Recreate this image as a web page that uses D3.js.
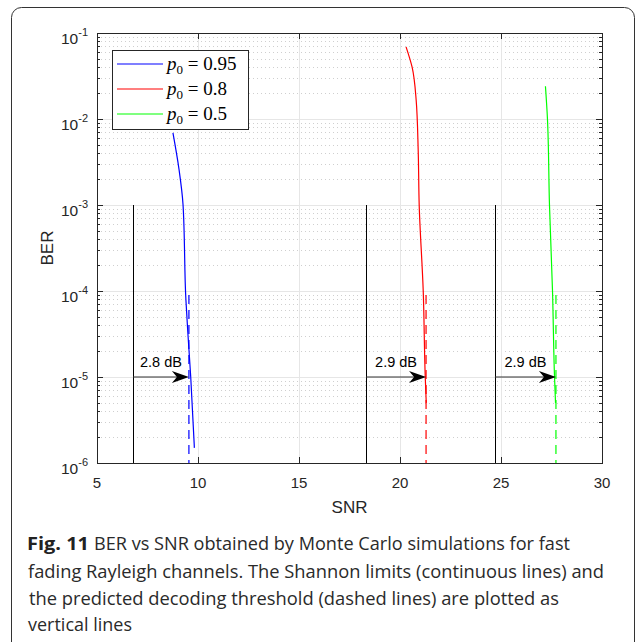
<!DOCTYPE html>
<html>
<head>
<meta charset="utf-8">
<script src="https://cdn.jsdelivr.net/npm/d3@7"></script>
<style>
  body { margin: 0; background: #fff; }
  svg { display: block; }
</style>
</head>
<body>
<div id="chart"></div>
<script>
const width = 637;
const height = 642;

// data
const series = ["p0 = 0.95", "p0 = 0.8", "p0 = 0.5"];
const seriesValue = ["0.95", "0.8", "0.5"];
const seriesColor = ["#0000ff", "#ff0000", "#00ff00"];
const snr095 = [8.76, 9.06, 9.26, 9.4, 9.5, 9.64, 9.82];
const ber095 = [6.9e-3, 2.6e-3, 1e-3, 8e-5, 3.2e-5, 1e-5, 1.5e-6];
const snr08 = [20.3, 20.6, 20.8, 20.9, 20.95, 21.15, 21.25, 21.3];
const ber08 = [6.9e-2, 4e-2, 1.66e-2, 4.4e-3, 1e-3, 1e-4, 1e-5, 5e-6];
const snr05 = [27.2, 27.3, 27.4, 27.55, 27.65, 27.7];
const ber05 = [2.4e-2, 1e-2, 1e-3, 1e-4, 1e-5, 5e-6];
const shannonSnr = [6.78, 18.32, 24.7];
const thresholdSnr = [9.55, 21.29, 27.72];
const gapLabels = ["2.8 dB", "2.9 dB", "2.9 dB"];
const shannonBer = [1e-3, 1e-6];
const thresholdBer = [9e-5, 1e-6];
const arrowBer = 1e-5;
const xTicks = [5, 10, 15, 20, 25, 30];
const yDecades = [-6, -5, -4, -3, -2, -1];
const captionBold = "Fig. 11";
const captionLines = [
  "BER vs SNR obtained by Monte Carlo simulations for fast",
  "fading Rayleigh channels. The Shannon limits (continuous lines) and",
  "the predicted decoding threshold (dashed lines) are plotted as",
  "vertical lines"
];

const curves = [
  snr095.map((s, i) => [s, ber095[i]]),
  snr08.map((s, i) => [s, ber08[i]]),
  snr05.map((s, i) => [s, ber05[i]])
];

const plot = { left: 97, right: 602, top: 33, bottom: 463 };
const axisColor = "#262626";

const svg = d3.select("#chart").append("svg")
  .attr("width", width)
  .attr("height", height);

// outer figure frame
svg.append("rect")
  .attr("x", 11.5).attr("y", 7.5)
  .attr("width", 623).attr("height", 660)
  .attr("rx", 10)
  .attr("fill", "none")
  .attr("stroke", "#333")
  .attr("stroke-width", 1);

const x = d3.scaleLinear().domain([5, 30]).range([plot.left, plot.right]);
const y = d3.scaleLog().domain([1e-6, 1e-1]).range([plot.bottom, plot.top]);

const minorVals = [];
yDecades.slice(0, -1).forEach(e => {
  for (let k = 2; k <= 9; k++) minorVals.push(k * Math.pow(10, e));
});

const grid = svg.append("g");
// minor dotted grid
grid.selectAll(".minor").data(minorVals).enter().append("line")
  .attr("x1", plot.left).attr("x2", plot.right)
  .attr("y1", d => Math.round(y(d)) + 0.5).attr("y2", d => Math.round(y(d)) + 0.5)
  .attr("stroke", "#cfcfcf").attr("stroke-dasharray", "1,3");
// major grid
grid.selectAll(".majy").data(yDecades.slice(1, -1)).enter().append("line")
  .attr("x1", plot.left).attr("x2", plot.right)
  .attr("y1", d => Math.round(y(Math.pow(10, d))) + 0.5)
  .attr("y2", d => Math.round(y(Math.pow(10, d))) + 0.5)
  .attr("stroke", "#e6e6e6");
grid.selectAll(".majx").data(xTicks.slice(1, -1)).enter().append("line")
  .attr("x1", d => Math.round(x(d)) + 0.5).attr("x2", d => Math.round(x(d)) + 0.5)
  .attr("y1", plot.top).attr("y2", plot.bottom)
  .attr("stroke", "#e6e6e6");

// axes box and ticks
const axes = svg.append("g").attr("stroke", axisColor).attr("fill", "none");
axes.append("rect")
  .attr("x", plot.left + 0.5).attr("y", plot.top + 0.5)
  .attr("width", plot.right - plot.left).attr("height", plot.bottom - plot.top)
  .attr("stroke-width", 1);
xTicks.forEach(t => {
  const px = Math.round(x(t)) + 0.5;
  axes.append("line").attr("x1", px).attr("x2", px).attr("y1", plot.bottom).attr("y2", plot.bottom - 6);
  axes.append("line").attr("x1", px).attr("x2", px).attr("y1", plot.top).attr("y2", plot.top + 6);
});
yDecades.forEach(e => {
  const py = Math.round(y(Math.pow(10, e))) + 0.5;
  axes.append("line").attr("x1", plot.left).attr("x2", plot.left + 6).attr("y1", py).attr("y2", py);
  axes.append("line").attr("x1", plot.right).attr("x2", plot.right - 6).attr("y1", py).attr("y2", py);
});
minorVals.forEach(v => {
  const py = Math.round(y(v)) + 0.5;
  axes.append("line").attr("x1", plot.left).attr("x2", plot.left + 3).attr("y1", py).attr("y2", py);
  axes.append("line").attr("x1", plot.right).attr("x2", plot.right - 3).attr("y1", py).attr("y2", py);
});

// tick labels
const labelFont = "'Liberation Sans', Arial, sans-serif";
svg.append("g").selectAll("text").data(xTicks).enter().append("text")
  .attr("x", d => x(d)).attr("y", plot.bottom + 25)
  .attr("text-anchor", "middle")
  .attr("font-family", labelFont).attr("font-size", 15)
  .attr("fill", axisColor)
  .text(d => d);

const yl = svg.append("g").selectAll("text").data(yDecades).enter().append("text")
  .attr("x", plot.left - 9).attr("y", d => y(Math.pow(10, d)) + 11)
  .attr("text-anchor", "end")
  .attr("font-family", labelFont).attr("font-size", 15.5)
  .attr("fill", axisColor);
yl.append("tspan").text("10");
yl.append("tspan").attr("dy", -8).attr("font-size", 11).text(d => d);

svg.append("text")
  .attr("x", (plot.left + plot.right) / 2).attr("y", plot.bottom + 50)
  .attr("text-anchor", "middle")
  .attr("font-family", labelFont).attr("font-size", 17)
  .attr("fill", axisColor).text("SNR");
svg.append("text")
  .attr("transform", `translate(53,${(plot.top + plot.bottom) / 2}) rotate(-90)`)
  .attr("text-anchor", "middle")
  .attr("font-family", labelFont).attr("font-size", 17)
  .attr("fill", axisColor).text("BER");

// Shannon limits and thresholds
const marks = svg.append("g");
shannonSnr.forEach(s => {
  marks.append("line")
    .attr("x1", Math.round(x(s)) + 0.5).attr("x2", Math.round(x(s)) + 0.5)
    .attr("y1", y(shannonBer[0])).attr("y2", y(shannonBer[1]))
    .attr("stroke", "#000").attr("stroke-width", 1);
});
thresholdSnr.forEach((s, i) => {
  marks.append("line")
    .attr("x1", x(s)).attr("x2", x(s))
    .attr("y1", y(thresholdBer[0])).attr("y2", y(thresholdBer[1]))
    .attr("stroke", seriesColor[i]).attr("stroke-width", 1.2)
    .attr("stroke-dasharray", "9,6");
});

// curves
const line = d3.line().x(d => x(d[0])).y(d => y(d[1])).curve(d3.curveMonotoneY);
svg.append("g").selectAll("path").data(curves).enter().append("path")
  .attr("d", line)
  .attr("fill", "none")
  .attr("stroke", (d, i) => seriesColor[i])
  .attr("stroke-width", 1.2);

// arrows
const arrows = svg.append("g");
shannonSnr.forEach((s, i) => {
  const x0 = x(s), x1 = x(thresholdSnr[i]), py = y(arrowBer);
  arrows.append("line")
    .attr("x1", x0).attr("x2", x1 - 8)
    .attr("y1", py).attr("y2", py)
    .attr("stroke", "#333").attr("stroke-width", 1.2);
  arrows.append("path")
    .attr("d", `M${x1},${py} L${x1 - 17},${py - 6} L${x1 - 12},${py} L${x1 - 17},${py + 6} Z`)
    .attr("fill", "#000");
  arrows.append("text")
    .attr("x", (x0 + x1) / 2).attr("y", py - 10)
    .attr("text-anchor", "middle")
    .attr("font-family", labelFont).attr("font-size", 14.5)
    .attr("fill", "#000").text(gapLabels[i]);
});

// legend
const legend = svg.append("g").attr("transform", "translate(112,50)");
legend.append("rect")
  .attr("x", 0.5).attr("y", 0.5).attr("width", 136).attr("height", 79)
  .attr("fill", "#fff").attr("stroke", axisColor);
const mathFont = "'Liberation Serif', 'DejaVu Serif', serif";
series.forEach((name, i) => {
  const ly = 14 + i * 25;
  legend.append("line")
    .attr("x1", 5).attr("x2", 51).attr("y1", ly).attr("y2", ly)
    .attr("stroke", seriesColor[i]).attr("stroke-width", 1.2);
  const t = legend.append("text")
    .attr("x", 55).attr("y", ly + 6)
    .attr("font-family", mathFont)
    .attr("font-size", 19).attr("fill", "#000");
  t.append("tspan").attr("font-style", "italic").text("p");
  t.append("tspan").attr("dy", 4).attr("font-size", 13).text("0");
  t.append("tspan").attr("dy", -4).text(" = " + seriesValue[i]);
});

// caption
const capFont = "'Open Sans', 'Noto Sans', sans-serif";
const capStart = [94, 28, 29, 28];
const capWidths = [476, 576, 530, 104];
const capBase = [550, 578, 605, 631];
svg.append("text")
  .attr("x", 27).attr("y", capBase[0])
  .attr("font-family", capFont).attr("font-size", 18).attr("font-weight", "bold")
  .attr("fill", "#222")
  .attr("textLength", 62).attr("lengthAdjust", "spacingAndGlyphs")
  .text(captionBold);
captionLines.forEach((l, i) => {
  svg.append("text")
    .attr("x", capStart[i]).attr("y", capBase[i])
    .attr("font-family", capFont).attr("font-size", 18)
    .attr("fill", "#2a2a2a")
    .attr("textLength", capWidths[i]).attr("lengthAdjust", "spacingAndGlyphs")
    .text(l);
});
</script>
</body>
</html>
